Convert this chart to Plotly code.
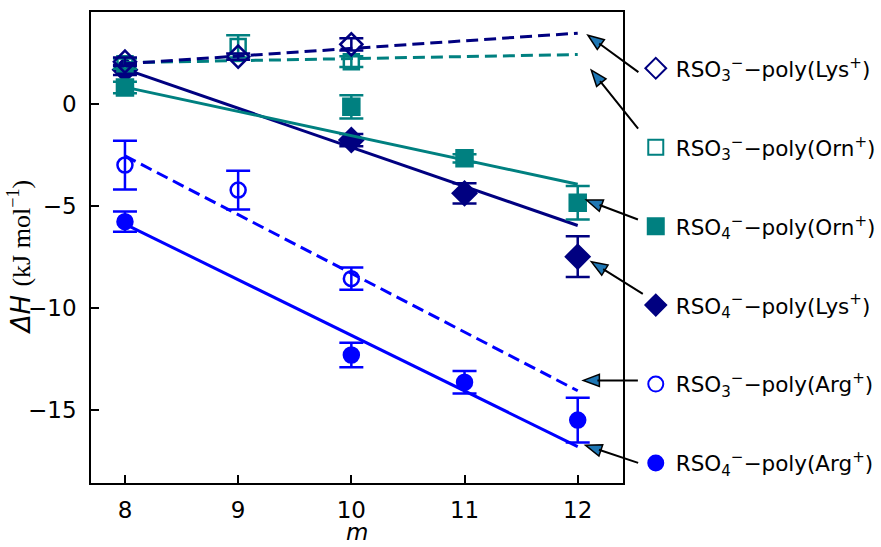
import math
import plotly.graph_objects as go

NAVY = "#000080"
TEAL = "#008080"
BLUE = "#0000ff"
HEAD = "#1f77b4"

# chain length m and enthalpy (kJ/mol) per surfactant / polypeptide pair
lys3_m = [8, 9, 10]
lys3_dh = [2.1, 2.35, 2.95]
lys3_err = [0.2, 0.15, 0.3]

orn3_m = [8, 9, 10]
orn3_dh = [2.0, 2.85, 2.1]
orn3_err = [0.25, 0.55, 0.26]

orn4_m = [8, 10, 11, 12]
orn4_dh = [0.83, -0.12, -2.65, -4.83]
orn4_err = [0.28, 0.57, 0.2, 0.82]

lys4_m = [8, 10, 11, 12]
lys4_dh = [1.7, -1.75, -4.37, -7.48]
lys4_err = [0.25, 0.3, 0.5, 1.0]

arg3_m = [8, 9, 10]
arg3_dh = [-2.98, -4.21, -8.56]
arg3_err = [1.2, 0.95, 0.55]

arg4_m = [8, 10, 11, 12]
arg4_dh = [-5.76, -12.31, -13.65, -15.51]
arg4_err = [0.5, 0.6, 0.55, 1.1]

# linear fits evaluated at the ends of the m range
fit_m = [8, 12]
lys3_fit = [2.0, 3.5]
orn3_fit = [2.05, 2.45]
orn4_fit = [0.85, -3.92]
lys4_fit = [1.73, -5.95]
arg3_fit = [-2.53, -14.07]
arg4_fit = [-5.88, -16.81]

x_ticks = [8, 9, 10, 11, 12]
y_ticks = [0, -5, -10, -15]

x_title = "<i>m</i>"
y_title = ("<i>ΔH</i> <span style=\"font-family:'Liberation Serif'\">"
           "(kJ mol<sup>−1</sup>)</span>")

labels = [
    "RSO<sub>3</sub><sup>−</sup>−poly(Lys<sup>+</sup>)",
    "RSO<sub>3</sub><sup>−</sup>−poly(Orn<sup>+</sup>)",
    "RSO<sub>4</sub><sup>−</sup>−poly(Orn<sup>+</sup>)",
    "RSO<sub>4</sub><sup>−</sup>−poly(Lys<sup>+</sup>)",
    "RSO<sub>3</sub><sup>−</sup>−poly(Arg<sup>+</sup>)",
    "RSO<sub>4</sub><sup>−</sup>−poly(Arg<sup>+</sup>)",
]

# arrow tips (data coords) and tail offsets (px) pointing from each label to its fit line
arrow_tip_m = [12.09, 12.12, 12.077, 12.12, 12.05, 12.07]
arrow_tip_dh = [3.40, 1.68, -4.70, -7.73, -13.56, -16.75]
arrow_ax = [52, 48, 53, 53, 56, 54]
arrow_ay = [38, 60, 20, 33, 0, 18]

series = [
    # (m, dH, err, fit, color, symbol, size, dash, label index)
    (arg4_m, arg4_dh, arg4_err, arg4_fit, BLUE, "circle", 15, "solid", 5),
    (arg3_m, arg3_dh, arg3_err, arg3_fit, BLUE, "circle-open", 15, "12px,6px", 4),
    (lys4_m, lys4_dh, lys4_err, lys4_fit, NAVY, "diamond", 18, "solid", 3),
    (orn4_m, orn4_dh, orn4_err, orn4_fit, TEAL, "square", 16, "solid", 2),
    (orn3_m, orn3_dh, orn3_err, orn3_fit, TEAL, "square-open", 15, "12px,6px", 1),
    (lys3_m, lys3_dh, lys3_err, lys3_fit, NAVY, "diamond-open", 17, "12px,6px", 0),
]

fig = go.Figure()

for m, dh, err, fit, color, sym, size, dash, _ in series:
    fig.add_trace(go.Scatter(
        x=fit_m, y=fit, mode="lines", showlegend=False, hoverinfo="skip",
        line=dict(color=color, width=3, dash=dash),
    ))
    fig.add_trace(go.Scatter(
        x=m, y=dh, mode="markers", showlegend=False,
        marker=dict(symbol=sym, size=size, color=color,
                    line=dict(color=color, width=2.5)),
        error_y=dict(type="data", array=err, visible=True,
                     color=color, thickness=2.5, width=12),
    ))

# legend-only entries, listed top to bottom
legend_order = sorted(series, key=lambda s: s[8])
for m, dh, err, fit, color, sym, size, dash, idx in legend_order:
    fig.add_trace(go.Scatter(
        x=[None], y=[None], mode="markers", name=labels[idx],
        legendgroup=f"g{idx}",
        marker=dict(symbol=sym, size=size, color=color,
                    line=dict(color=color, width=2)),
    ))

# arrows: black shaft as annotation, filled head as pixel-sized path
head_len, head_half = 16, 6
for tx, ty, ax, ay in zip(arrow_tip_m, arrow_tip_dh, arrow_ax, arrow_ay):
    fig.add_annotation(
        x=tx, y=ty, xref="x", yref="y", ax=ax, ay=ay, text="",
        showarrow=True, arrowhead=0, arrowwidth=2, arrowcolor="black",
        standoff=head_len - 2,
    )
    d = math.hypot(ax, ay)
    ux, uy = -ax / d, -ay / d          # screen direction tail -> tip
    bx, by = -head_len * ux, -head_len * uy
    px, py = -uy, ux
    pts = [(0, 0), (bx + head_half * px, by + head_half * py),
           (bx - head_half * px, by - head_half * py)]
    path = "M " + " L ".join(f"{x:.2f},{-y:.2f}" for x, y in pts) + " Z"
    fig.add_shape(
        type="path", path=path, xref="x", yref="y",
        xsizemode="pixel", ysizemode="pixel", xanchor=tx, yanchor=ty,
        fillcolor=HEAD, line=dict(color="black", width=1.5), layer="above",
    )

# axis titles placed below / left of the tick labels
fig.add_annotation(text=x_title, xref="paper", yref="paper", x=0.5, y=-0.1355,
                   xanchor="center", yanchor="bottom", showarrow=False,
                   font=dict(size=23))
fig.add_annotation(text=y_title, xref="paper", yref="paper", x=-0.133, y=0.48,
                   xanchor="center", yanchor="middle", showarrow=False,
                   textangle=-90, font=dict(size=26))

axis_common = dict(
    showline=True, linecolor="black", linewidth=1.5, mirror=True,
    ticks="inside", ticklen=8, tickwidth=1.5, tickcolor="black",
    showgrid=False, zeroline=False, tickfont=dict(size=23),
)

fig.update_layout(
    width=881, height=547,
    margin=dict(l=91, r=258, t=12, b=64, autoexpand=False),
    plot_bgcolor="white", paper_bgcolor="white",
    font=dict(family="DejaVu Sans", size=22, color="black"),
    xaxis=dict(range=[7.7, 12.4], tickvals=x_ticks, ticklabelstandoff=6,
               **axis_common),
    yaxis=dict(range=[-18.6, 4.54], tickvals=y_ticks, ticklabelstandoff=8,
               **axis_common),
    legend=dict(x=1.024, xanchor="left", y=0.924, yanchor="top",
                font=dict(size=21.5), tracegroupgap=48,
                bgcolor="rgba(0,0,0,0)"),
)

fig.write_html("out.html")
